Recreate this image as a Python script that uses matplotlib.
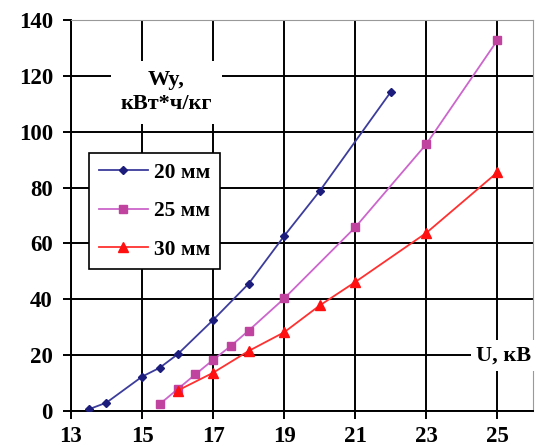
import numpy as np
import matplotlib.pyplot as plt

plt.rcParams['font.family'] = 'serif'
plt.rcParams['font.serif'] = ['Liberation Serif']
plt.rcParams['font.weight'] = 'bold'

# 20 mm
u_20 = [13.5, 14, 15, 15.5, 16, 17, 18, 19, 20, 22]
w_20 = [0.6, 3.0, 12.3, 15.5, 20.3, 32.6, 45.6, 62.7, 78.8, 114.3]
# 25 mm
u_25 = [15.5, 16, 16.5, 17, 17.5, 18, 19, 21, 23, 25]
w_25 = [2.5, 7.8, 13.1, 18.3, 23.3, 28.8, 40.3, 65.8, 95.6, 132.8]
# 30 mm
u_30 = [16, 17, 18, 19, 20, 21, 23, 25]
w_30 = [7.3, 13.7, 21.5, 28.2, 37.8, 46.2, 63.8, 85.5]

labels = ['20 мм', '25 мм', '30 мм']
x_ticks = [13, 15, 17, 19, 21, 23, 25]
y_ticks = [0, 20, 40, 60, 80, 100, 120, 140]

fig = plt.figure(figsize=(5.5, 4.48), dpi=100)
ax = fig.add_axes([0.129, 0.0826, 0.84, 0.8724])

ax.plot(u_20, w_20, color='#3c3c9c', lw=1.3, marker='D', ms=4.5,
        mfc='#1c1c7c', mec='#1c1c7c', label=labels[0], zorder=3)
ax.plot(u_25, w_25, color='#cc66cc', lw=1.3, marker='s', ms=5.5,
        mfc='#c0449f', mec='#c0449f', label=labels[1], zorder=3)
ax.plot(u_30, w_30, color='#ff3030', lw=1.3, marker='^', ms=6.5,
        mfc='#ff1010', mec='#ff1010', label=labels[2], zorder=3)

ax.set_xlim(13, 26)
ax.set_ylim(0, 140)
ax.set_xticks(x_ticks)
ax.set_yticks(y_ticks)
ax.grid(True, color='black', lw=1.4)
ax.set_axisbelow(True)
ax.tick_params(axis='both', length=6, width=1.4, direction='out',
               labelsize=16.5)
ax.tick_params(axis='y', pad=7)
ax.tick_params(axis='x', pad=5)
for s in ['top', 'right']:
    ax.spines[s].set_color('#999999')
for s in ['left', 'bottom']:
    ax.spines[s].set_linewidth(1.4)

ax.text(15.69, 114.2, 'Wy,\nкВт*ч/кг', ha='center', va='center', fontsize=16,
        linespacing=1.25, zorder=4,
        bbox=dict(facecolor='white', edgecolor='none', pad=7))
ax.text(24.41, 20, 'U, кВ', ha='left', va='center', fontsize=16,
        zorder=4, clip_on=False,
        bbox=dict(facecolor='white', edgecolor='none', pad=4))

leg = ax.legend(loc='upper left', bbox_to_anchor=(0.039, 0.66), fontsize=15.5,
                borderaxespad=0, frameon=True, fancybox=False, framealpha=1,
                edgecolor='black', labelspacing=0.85, handlelength=2.3,
                borderpad=0.45, handletextpad=0.25)
leg.get_frame().set_linewidth(1.2)
leg.set_zorder(5)

fig.savefig('out.png', dpi=100)
